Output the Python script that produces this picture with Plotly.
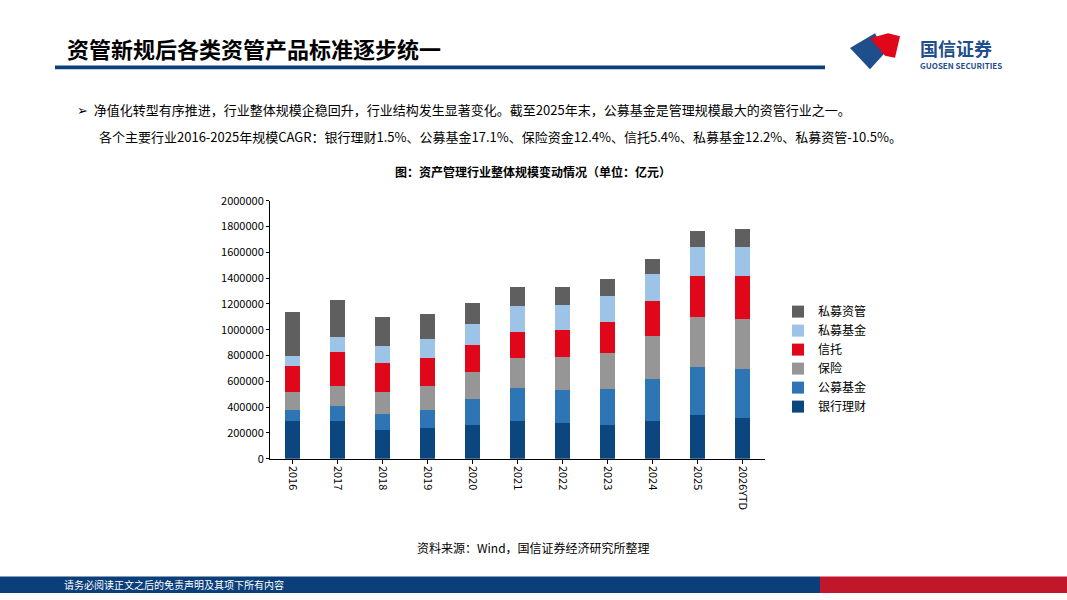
import plotly.graph_objects as go

years = ["2016","2017","2018","2019","2020","2021","2022","2023","2024","2025","2026YTD"]
cum_bank  = [290,295,220,235,260,290,275,265,295,335,315]
cum_fund  = [380,410,350,380,465,545,530,540,620,710,695]
cum_ins   = [515,560,515,565,675,780,785,820,955,1095,1085]
cum_trust = [720,825,740,780,880,985,1000,1060,1225,1420,1415]
cum_pf    = [795,940,870,925,1045,1180,1195,1265,1430,1640,1645]
cum_pam   = [1135,1230,1100,1120,1210,1335,1335,1390,1545,1765,1780]

def diff(a, b): return [(x - y) * 1000 for x, y in zip(a, b)]
bank = [x * 1000 for x in cum_bank]
fund = diff(cum_fund, cum_bank)
ins = diff(cum_ins, cum_fund)
trust = diff(cum_trust, cum_ins)
pf = diff(cum_pf, cum_trust)
pam = diff(cum_pam, cum_pf)

series = [("银行理财", bank, "#0b467e"), ("公募基金", fund, "#2e75b6"), ("保险", ins, "#969696"),
          ("信托", trust, "#e0071b"), ("私募基金", pf, "#9dc3e6"), ("私募资管", pam, "#5f5f5f")]

fig = go.Figure()
for name, vals, c in series:
    fig.add_bar(x=years, y=vals, name=name, marker_color=c, marker_line_width=0, width=0.32)

F = "Noto Sans CJK SC"
fig.update_layout(
    barmode="stack", autosize=True, margin=dict(l=0, r=0, t=0, b=0),
    paper_bgcolor="white", plot_bgcolor="white", font=dict(family=F, color="#000"),
    xaxis=dict(domain=[270/1067, 765/1067], tickangle=90, showline=True, linecolor="#000",
               ticks="outside", tickcolor="#000", ticklen=4, tickfont=dict(size=11), anchor="y"),
    yaxis=dict(domain=[1-462/600, 1-197/600], range=[0, 2000000], dtick=200000, showline=True,
               linecolor="#000", ticks="outside", tickcolor="#000", ticklen=3, showgrid=False,
               tickfont=dict(size=11), tickformat="d"),
    legend=dict(x=778/1067, y=1-296/600, xanchor="left", yanchor="top", traceorder="reversed",
                font=dict(size=12), itemwidth=30, tracegroupgap=0),
    bargap=0.5,
)
shapes = [
    dict(type="rect", xref="paper", yref="paper", x0=55/1067, x1=825/1067, y0=1-62/600, y1=1-58/600,
         fillcolor="#0b3f7a", line_width=0),
    dict(type="rect", xref="paper", yref="paper", x0=0, x1=820/1067, y0=0, y1=17/600,
         fillcolor="#0b3f7a", line_width=0),
    dict(type="rect", xref="paper", yref="paper", x0=820/1067, x1=1, y0=0, y1=17/600,
         fillcolor="#c0172a", line_width=0),
    dict(type="path", xref="paper", yref="paper",
         path=f"M {850/1067},{1-40/600} L {875/1067},{1-25/600} L {885/1067},{1-45/600} L {870/1067},{1-62/600} Z",
         fillcolor="#1f4e8c", line_width=0),
    dict(type="path", xref="paper", yref="paper",
         path=f"M {870/1067},{1-30/600} L {888/1067},{1-25/600} L {900/1067},{1-28/600} L {895/1067},{1-50/600} L {885/1067},{1-48/600} Z",
         fillcolor="#e0071b", line_width=0),
]
fig.update_layout(shapes=shapes)
ann = [
    dict(x=65/1067, y=1-40/600, text="<b>资管新规后各类资管产品标准逐步统一</b>", font=dict(size=22, color="#000")),
    dict(x=918/1067, y=1-40/600, text="<b>国信证券</b>", font=dict(size=18, color="#1f4e8c")),
    dict(x=918/1067, y=1-58/600, text="<b>GUOSEN SECURITIES</b>", font=dict(size=8, color="#1f4e8c")),
    dict(x=75/1067, y=1-103/600, text="➢  净值化转型有序推进，行业整体规模企稳回升，行业结构发生显著变化。截至2025年末，公募基金是管理规模最大的资管行业之一。",
         font=dict(size=13)),
    dict(x=97/1067, y=1-131/600, text="各个主要行业2016-2025年规模CAGR：银行理财1.5%、公募基金17.1%、保险资金12.4%、信托5.4%、私募基金12.2%、私募资管-10.5%。",
         font=dict(size=13)),
    dict(x=533/1067, y=1-167/600, text="<b>图：资产管理行业整体规模变动情况（单位：亿元）</b>", font=dict(size=12), xanchor="center"),
    dict(x=533/1067, y=1-553/600, text="资料来源：Wind，国信证券经济研究所整理", font=dict(size=12), xanchor="center"),
    dict(x=62/1067, y=1-591/600, text="请务必阅读正文之后的免责声明及其项下所有内容", font=dict(size=10, color="white")),
]
for a in ann:
    a.setdefault("xanchor", "left")
    fig.add_annotation(xref="paper", yref="paper", yanchor="middle", showarrow=False, **a)

html = fig.to_html(full_html=True, default_width="100vw", default_height="100vh",
                   config={"displayModeBar": False})
html = html.replace("<head>", "<head><style>html,body{margin:0;padding:0;overflow:hidden;}</style>", 1)
with open("out.html", "w", encoding="utf-8") as f:
    f.write(html)
